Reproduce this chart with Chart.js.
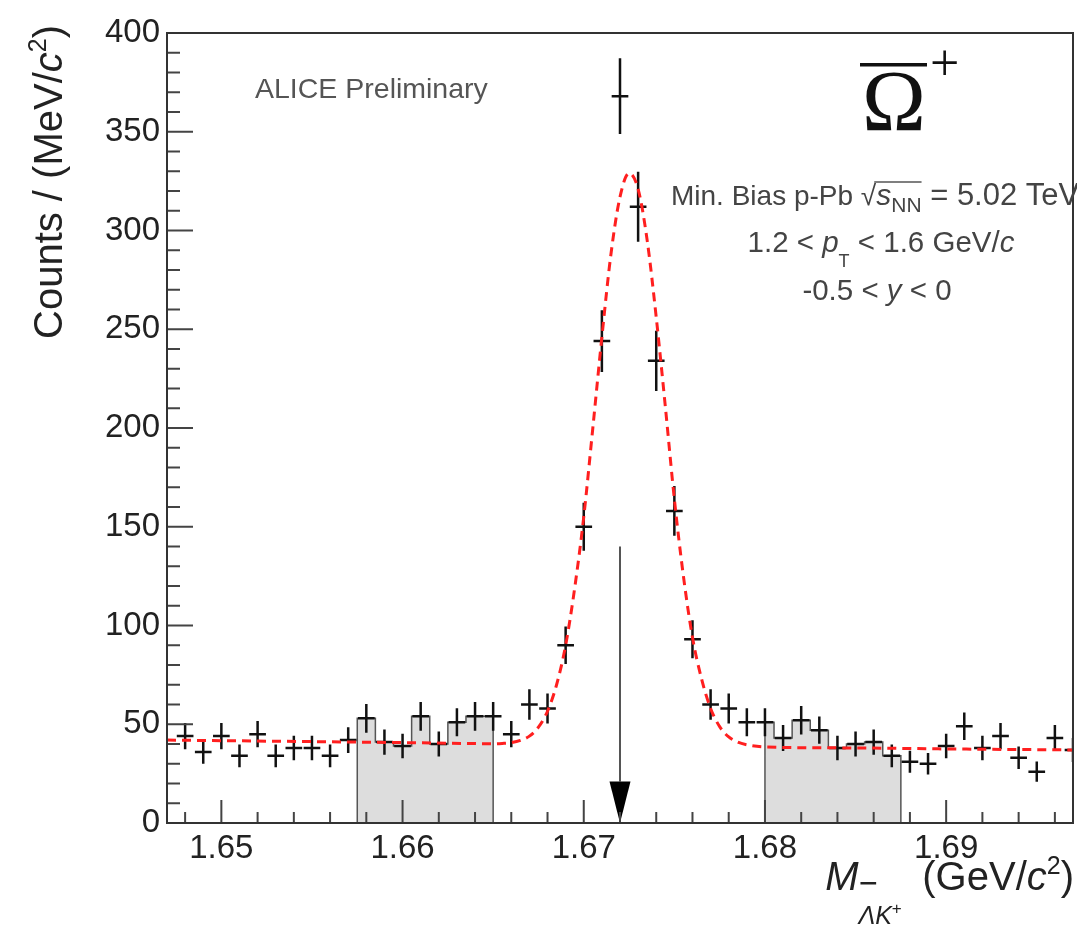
<!DOCTYPE html>
<html>
<head>
<meta charset="utf-8">
<script src="https://cdn.jsdelivr.net/npm/chart.js@4.4.1/dist/chart.umd.min.js"></script>
<style>
  html, body { margin: 0; padding: 0; background: #fff; }
</style>
</head>
<body>
<canvas id="massChart" width="1077" height="927"></canvas>
<script>
// invariant mass bin centres (GeV/c^2), 1 MeV bins
const massBins = [
    1.648, 1.649, 1.650, 1.651, 1.652, 1.653, 1.654, 1.655, 1.656, 1.657,
    1.658, 1.659, 1.660, 1.661, 1.662, 1.663, 1.664, 1.665, 1.666, 1.667,
    1.668, 1.669, 1.670, 1.671, 1.672, 1.673, 1.674, 1.675, 1.676, 1.677,
    1.678, 1.679, 1.680, 1.681, 1.682, 1.683, 1.684, 1.685, 1.686, 1.687,
    1.688, 1.689, 1.690, 1.691, 1.692, 1.693, 1.694, 1.695, 1.696, 1.697
];
const counts = [
    44, 36, 44, 34, 45, 34, 38, 38, 34, 42,
    53, 41, 39, 54, 40, 51, 54, 54, 45, 60,
    58, 90, 150, 244, 368, 312, 234, 158, 93, 60,
    58, 51, 51, 43, 52, 47, 38, 40, 41, 34,
    31, 30, 39, 49, 38, 44, 33, 26, 43, 37
];
const countErrors = [
    6.6, 6.0, 6.6, 5.8, 6.7, 5.8, 6.2, 6.2, 5.8, 6.5,
    7.3, 6.4, 6.2, 7.3, 6.3, 7.1, 7.3, 7.3, 6.7, 7.7,
    7.6, 9.5, 12.2, 15.6, 19.2, 17.7, 15.3, 12.6, 9.6, 7.7,
    7.6, 7.1, 7.1, 6.6, 7.2, 6.9, 6.2, 6.3, 6.4, 5.8,
    5.6, 5.5, 6.2, 7.0, 6.2, 6.6, 5.7, 5.1, 6.6, 6.1
];
const binHalf = 0.0005;

// fit curve (gaussian + background)
const fitMass = [
    1.647, 1.655, 1.660, 1.664, 1.665, 1.6655, 1.666, 1.6665, 1.667, 1.6675,
    1.668, 1.6685, 1.669, 1.6695, 1.670, 1.6705, 1.671, 1.6715, 1.672, 1.6725,
    1.673, 1.6735, 1.674, 1.6745, 1.675, 1.6755, 1.676, 1.6765, 1.677, 1.6775,
    1.678, 1.6785, 1.679, 1.680, 1.685, 1.690, 1.697
];
const fitCounts = [
    42.0, 41.2, 40.7, 40.2, 40.1, 40.3, 40.7, 41.8, 44.0, 48.5,
    56.6, 70, 90, 119, 155, 200, 246, 288, 317, 329,
    321, 295, 256, 211, 164, 125, 94, 73, 58, 48.8,
    43.6, 40.9, 39.6, 38.5, 38.0, 37.5, 37.0
];

// side band ranges (GeV/c^2)
const sidebandLeft = [1.6575, 1.665];
const sidebandRight = [1.680, 1.6875];

// peak marker arrow
const arrowMass = 1.672;
const arrowTop = 140;
const arrowHeadTop = 21;

const xTicks = [1.65, 1.66, 1.67, 1.68, 1.69];
const xMinorTicks = [1.648, 1.652, 1.654, 1.656, 1.658, 1.662, 1.664, 1.666, 1.668,
    1.672, 1.674, 1.676, 1.678, 1.682, 1.684, 1.686, 1.688, 1.692, 1.694, 1.696];
const yTicks = [0, 50, 100, 150, 200, 250, 300, 350, 400];
const yMinorTicks = [10, 20, 30, 40, 60, 70, 80, 90, 110, 120, 130, 140, 160, 170, 180, 190,
    210, 220, 230, 240, 260, 270, 280, 290, 310, 320, 330, 340, 360, 370, 380, 390];

const SANS = '"Liberation Sans", Arial, sans-serif';
const SERIF = '"Liberation Serif", "Times New Roman", serif';

// step histogram outline clipped to a side band
function sidebandPoints(range) {
    let pts = [{ x: range[0], y: 0 }];
    massBins.forEach((m, i) => {
        let lo = Math.max(range[0], m - binHalf);
        let hi = Math.min(range[1], m + binHalf);
        if (hi > lo + 1e-9) {
            pts.push({ x: lo, y: counts[i] }, { x: hi, y: counts[i] });
        }
    });
    pts.push({ x: range[1], y: 0 });
    return pts;
}

// text made of pieces with different fonts / offsets
function drawRich(ctx, parts, x, y, align) {
    let total = 0;
    parts.forEach(p => { ctx.font = p.font; p.w = ctx.measureText(p.t).width; total += p.w; });
    let cx = align === "center" ? x - total / 2 : (align === "right" ? x - total : x);
    let pos = [];
    ctx.textAlign = "left";
    ctx.textBaseline = "alphabetic";
    parts.forEach(p => {
        ctx.font = p.font;
        ctx.fillText(p.t, cx, y + (p.dy || 0));
        pos.push({ x: cx, w: p.w });
        cx += p.w;
    });
    return pos;
}

// data points with error bars (drawn right after the data dataset)
const crossPlugin = {
    id: "crosses",
    afterDatasetDraw(chart, args) {
        if (args.index !== 2) return;
        const { ctx, chartArea, scales: { x, y } } = chart;
        ctx.save();
        ctx.beginPath();
        ctx.rect(chartArea.left, chartArea.top, chartArea.width, chartArea.height);
        ctx.clip();
        ctx.strokeStyle = "#111";
        ctx.lineWidth = 2.5;
        massBins.forEach((m, i) => {
            let px = x.getPixelForValue(m);
            let py = y.getPixelForValue(counts[i]);
            ctx.beginPath();
            ctx.moveTo(x.getPixelForValue(m - binHalf * 0.92), py);
            ctx.lineTo(x.getPixelForValue(m + binHalf * 0.92), py);
            ctx.moveTo(px, y.getPixelForValue(counts[i] - countErrors[i]));
            ctx.lineTo(px, y.getPixelForValue(counts[i] + countErrors[i]));
            ctx.stroke();
        });
        ctx.restore();
    }
};

// frame, inner ticks, arrow and all annotations
const decorPlugin = {
    id: "decor",
    afterDraw(chart) {
        const { ctx, chartArea: a, scales: { x, y } } = chart;
        ctx.save();

        // arrow
        let ax = x.getPixelForValue(arrowMass);
        let headY = y.getPixelForValue(arrowHeadTop);
        ctx.strokeStyle = "#555";
        ctx.lineWidth = 2;
        ctx.beginPath();
        ctx.moveTo(ax, y.getPixelForValue(arrowTop));
        ctx.lineTo(ax, headY);
        ctx.stroke();
        ctx.fillStyle = "#000";
        ctx.beginPath();
        ctx.moveTo(ax - 10.5, headY);
        ctx.lineTo(ax + 10.5, headY);
        ctx.lineTo(ax, y.getPixelForValue(0));
        ctx.closePath();
        ctx.fill();

        // ticks
        ctx.strokeStyle = "#444";
        ctx.lineWidth = 2;
        ctx.beginPath();
        xTicks.forEach(v => { let p = x.getPixelForValue(v); ctx.moveTo(p, a.bottom); ctx.lineTo(p, a.bottom - 23); });
        xMinorTicks.forEach(v => { let p = x.getPixelForValue(v); ctx.moveTo(p, a.bottom); ctx.lineTo(p, a.bottom - 11); });
        yTicks.forEach(v => { let p = y.getPixelForValue(v); ctx.moveTo(a.left, p); ctx.lineTo(a.left + 26, p); });
        yMinorTicks.forEach(v => { let p = y.getPixelForValue(v); ctx.moveTo(a.left, p); ctx.lineTo(a.left + 13, p); });
        ctx.stroke();

        // frame
        ctx.strokeStyle = "#333";
        ctx.lineWidth = 2;
        ctx.strokeRect(a.left, a.top, a.right - a.left, a.bottom - a.top);

        // ALICE label
        ctx.fillStyle = "#555";
        ctx.font = "28.5px " + SANS;
        ctx.textAlign = "left";
        ctx.fillText("ALICE Preliminary", 255, 98);

        // collision system / kinematics
        ctx.fillStyle = "#444";
        let f28 = "28px " + SANS, i28 = "italic 28px " + SANS;
        let f30 = "29.5px " + SANS, i30 = "italic 29.5px " + SANS;
        let pos = drawRich(ctx, [
            { t: "Min. Bias p-Pb ", font: f28 },
            { t: "\u221A", font: f28 },
            { t: "s", font: "italic 30px " + SANS },
            { t: "NN", font: "21px " + SANS, dy: 7 },
            { t: " = 5.02 TeV", font: "31px " + SANS }
        ], 671, 205, "left");
        ctx.strokeStyle = "#555";
        ctx.lineWidth = 1.5;
        ctx.beginPath();
        ctx.moveTo(pos[1].x + pos[1].w - 2, 182);
        ctx.lineTo(pos[3].x + pos[3].w, 182);
        ctx.stroke();

        drawRich(ctx, [
            { t: "1.2 < ", font: f30 },
            { t: "p", font: i30 },
            { t: "T", font: "18px " + SANS, dy: 15 },
            { t: " < 1.6 GeV/", font: f30 },
            { t: "c", font: i30 }
        ], 881, 252, "center");
        drawRich(ctx, [
            { t: "-0.5 < ", font: f30 },
            { t: "y", font: i30 },
            { t: " < 0", font: f30 }
        ], 877, 300, "center");

        // particle symbol
        ctx.fillStyle = "#111";
        ctx.font = "86px " + SERIF;
        ctx.fillText("\u03A9", 862, 130);
        ctx.fillRect(860, 63, 67, 3.5);
        ctx.font = "52px " + SERIF;
        ctx.fillText("+", 930, 80);

        // y title
        ctx.fillStyle = "#222";
        ctx.save();
        ctx.translate(62, 182);
        ctx.rotate(-Math.PI / 2);
        drawRich(ctx, [
            { t: "Counts / (MeV/", font: "40px " + SANS },
            { t: "c", font: "italic 40px " + SANS },
            { t: "2", font: "25px " + SANS, dy: -16 },
            { t: ")", font: "40px " + SANS }
        ], 0, 0, "center");
        ctx.restore();

        // x title
        let xp = drawRich(ctx, [
            { t: "M", font: "italic 40px " + SANS },
            { t: "\u039B", font: "italic 25px " + SANS, dy: 34 },
            { t: "K", font: "italic 25px " + SANS, dy: 34 },
            { t: "+  ", font: "17px " + SANS, dy: 24 },
            { t: " (GeV/", font: "40px " + SANS },
            { t: "c", font: "italic 40px " + SANS },
            { t: "2", font: "25px " + SANS, dy: -16 },
            { t: ")", font: "40px " + SANS }
        ], 1074, 890, "right");
        ctx.fillRect(xp[1].x + 2, 882, xp[1].w - 1, 2.5);

        ctx.restore();
    }
};

let ctx = document.getElementById("massChart").getContext("2d");

new Chart(ctx, {
    type: "line",
    data: {
        datasets: [
            {
                label: "left side band",
                data: sidebandPoints(sidebandLeft),
                fill: "origin",
                backgroundColor: "#dddddd",
                borderColor: "#555",
                borderWidth: 1.5,
                pointRadius: 0,
                order: 3
            },
            {
                label: "right side band",
                data: sidebandPoints(sidebandRight),
                fill: "origin",
                backgroundColor: "#dddddd",
                borderColor: "#555",
                borderWidth: 1.5,
                pointRadius: 0,
                order: 3
            },
            {
                label: "data",
                type: "scatter",
                data: massBins.map((m, i) => ({ x: m, y: counts[i] })),
                pointRadius: 0,
                showLine: false,
                order: 2
            },
            {
                label: "fit",
                data: fitMass.map((m, i) => ({ x: m, y: fitCounts[i] })),
                borderColor: "#ff1f1f",
                borderWidth: 3,
                borderDash: [9, 6],
                pointRadius: 0,
                fill: false,
                cubicInterpolationMode: "monotone",
                order: 1
            }
        ]
    },
    options: {
        responsive: false,
        animation: false,
        events: [],
        layout: { padding: { top: 33, right: 4, left: 0, bottom: 0 } },
        plugins: {
            legend: { display: false },
            tooltip: { enabled: false }
        },
        scales: {
            x: {
                type: "linear",
                min: 1.647,
                max: 1.697,
                afterBuildTicks: s => { s.ticks = xTicks.map(v => ({ value: v })); },
                afterFit: s => { s.height = 104; },
                grid: { display: false, drawTicks: false },
                border: { display: false },
                ticks: {
                    color: "#222",
                    font: { family: SANS, size: 33 },
                    padding: 6,
                    maxRotation: 0,
                    autoSkip: false,
                    callback: v => v.toFixed(2)
                }
            },
            y: {
                min: 0,
                max: 400,
                afterBuildTicks: s => { s.ticks = yTicks.map(v => ({ value: v })); },
                afterFit: s => { s.width = 167; },
                grid: { display: false, drawTicks: false },
                border: { display: false },
                ticks: {
                    color: "#222",
                    font: { family: SANS, size: 33 },
                    padding: 7
                }
            }
        }
    },
    plugins: [crossPlugin, decorPlugin]
});
</script>
</body>
</html>
